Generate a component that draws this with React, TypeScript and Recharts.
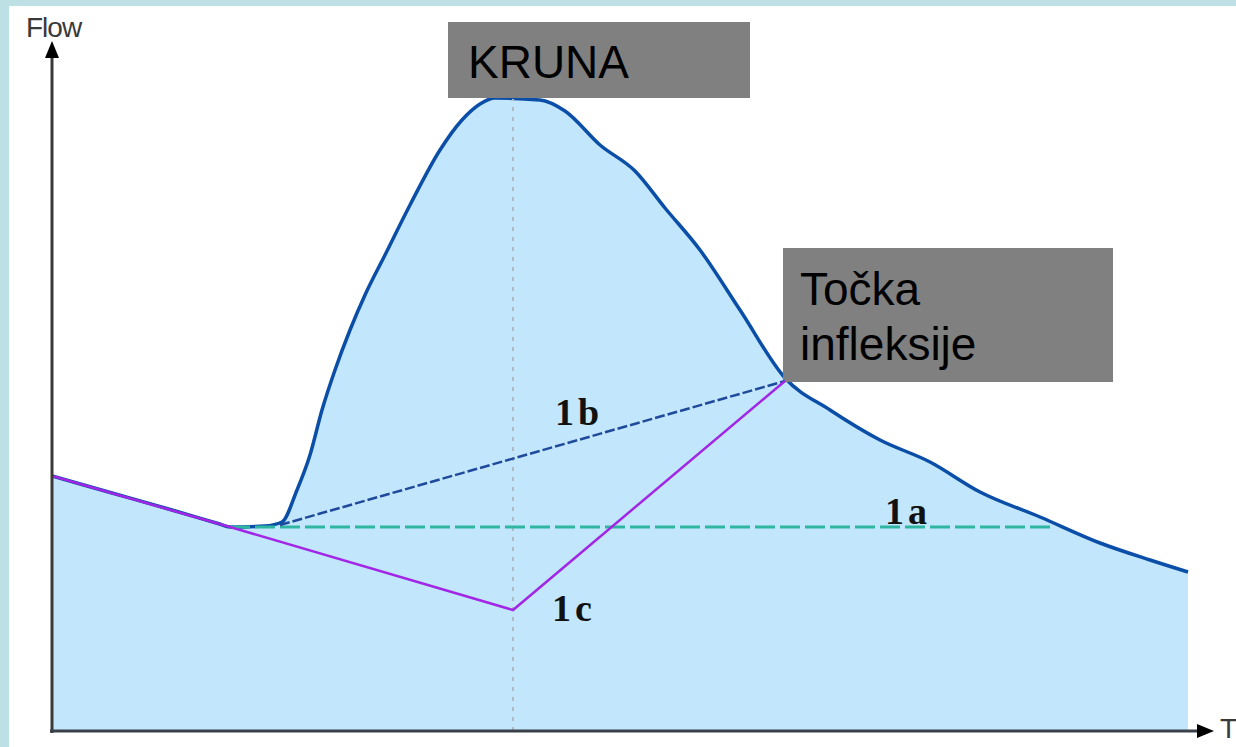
import React from "react";
import {
  ComposedChart,
  Area,
  Line,
  XAxis,
  YAxis,
  ReferenceLine,
  ReferenceArea,
  ReferenceDot,
} from "recharts";

// Hydrograph (time, flow)
const hydroTime = [0, 6, 12, 16.6, 17.8, 21.3, 23, 24.5, 25.8, 27, 28.3, 29.8, 31.3, 33.3, 35.8, 38.8, 41, 42.8, 44.3, 48.8, 51.3, 54.8, 58.3, 61.3, 64.8, 68.8, 73.3, 77.8, 82.8, 87.8, 92.8, 98.8, 104.8, 109.8, 113.6];
const hydroFlow = [25.5, 23.8, 22.1, 20.75, 20.4, 20.5, 20.9, 24.1, 27.6, 32.1, 36.1, 40.1, 43.6, 47.6, 52.6, 58.1, 61.1, 62.7, 63.3, 63.1, 62.0, 58.6, 56.0, 52.3, 48.1, 42.1, 35.3, 32.1, 29.1, 26.9, 23.9, 21.4, 18.8, 17.1, 15.9];

// Separation methods
const line1aTime = [17.8, 99.8];
const line1aFlow = [20.4, 20.4];
const line1bTime = [22.8, 73.3];
const line1bFlow = [20.6, 35.0];
const line1cTime = [0, 17.8, 46.1, 73.3];
const line1cFlow = [25.5, 20.4, 12.1, 35.0];

const peakTime = 46.1;
const peakFlow = 63.2;

const labels = ["KRUNA", "Točka", "infleksije", "1a", "1b", "1c", "Flow", "T"];

const zip = (t: number[], f: number[]) => t.map((x, i) => ({ x, y: f[i] }));
const hydroData = zip(hydroTime, hydroFlow);
const data1a = zip(line1aTime, line1aFlow);
const data1b = zip(line1bTime, line1bFlow);
const data1c = zip(line1cTime, line1cFlow);

const sans = "'Liberation Sans', Arial, sans-serif";
const serif = "'Liberation Serif', 'Times New Roman', serif";

const textShape =
  (text: string, size: number, family: string, weight: string, fill: string, spacing = 0) =>
  (p: any) => (
    <text
      x={p.cx}
      y={p.cy}
      fontSize={size}
      fontFamily={family}
      fontWeight={weight}
      fill={fill}
      letterSpacing={spacing}
    >
      {text}
    </text>
  );

export default function App() {
  return (
    <div
      style={{
        position: "fixed",
        left: 0,
        top: 0,
        width: 1236,
        height: 747,
        background: "#bce0e3",
        overflow: "hidden",
      }}
    >
      <div
        style={{
          position: "absolute",
          left: 9,
          top: 6,
          width: 1227,
          height: 741,
          background: "#ffffff",
        }}
      />
      <div style={{ position: "absolute", left: 0, top: 0 }}>
        <ComposedChart
          width={1236}
          height={747}
          margin={{ top: 11, right: 24, bottom: 16, left: 52 }}
        >
          <XAxis type="number" dataKey="x" domain={[0, 116]} hide allowDataOverflow />
          <YAxis type="number" dataKey="y" domain={[0, 72]} hide allowDataOverflow />
          <Area
            data={hydroData}
            dataKey="y"
            type="monotone"
            fill="#c2e7fc"
            fillOpacity={1}
            stroke="#0b4ea8"
            strokeWidth={3.5}
            isAnimationActive={false}
            dot={false}
            activeDot={false}
          />
          <ReferenceLine
            segment={[{ x: peakTime, y: 0 }, { x: peakTime, y: peakFlow }]}
            stroke="#b0bac4"
            strokeWidth={2}
            strokeDasharray="4 6"
            ifOverflow="visible"
          />
          <Line
            data={data1a}
            dataKey="y"
            type="linear"
            stroke="#2fb6a0"
            strokeWidth={3}
            strokeDasharray="20 5"
            dot={false}
            activeDot={false}
            isAnimationActive={false}
          />
          <Line
            data={data1b}
            dataKey="y"
            type="linear"
            stroke="#1f4a9c"
            strokeWidth={2.5}
            strokeDasharray="10 3"
            dot={false}
            activeDot={false}
            isAnimationActive={false}
          />
          <Line
            data={data1c}
            dataKey="y"
            type="linear"
            stroke="#a226e6"
            strokeWidth={2.5}
            dot={false}
            activeDot={false}
            isAnimationActive={false}
          />
          {/* axes */}
          <ReferenceLine
            segment={[{ x: 0, y: -0.2 }, { x: 0, y: 67.3 }]}
            stroke="#3a3a3a"
            strokeWidth={3}
            ifOverflow="visible"
          />
          <ReferenceLine
            segment={[{ x: -0.2, y: 0 }, { x: 114.5, y: 0 }]}
            stroke="#3a4048"
            strokeWidth={3}
            ifOverflow="visible"
          />
          <ReferenceDot
            x={0}
            y={67.3}
            r={1}
            ifOverflow="visible"
            shape={(p: any) => (
              <polygon
                points={`${p.cx - 7},${p.cy} ${p.cx + 7},${p.cy} ${p.cx},${p.cy - 17}`}
                fill="#000"
              />
            )}
          />
          <ReferenceDot
            x={114.5}
            y={0}
            r={1}
            ifOverflow="visible"
            shape={(p: any) => (
              <polygon
                points={`${p.cx},${p.cy - 7} ${p.cx},${p.cy + 7} ${p.cx + 17},${p.cy}`}
                fill="#000"
              />
            )}
          />
          {/* boxes */}
          <ReferenceArea
            x1={39.6}
            x2={69.8}
            y1={63.3}
            y2={70.9}
            fill="#808080"
            fillOpacity={1}
            stroke="none"
            ifOverflow="visible"
          />
          <ReferenceArea
            x1={73.1}
            x2={106.1}
            y1={34.9}
            y2={48.3}
            fill="#808080"
            fillOpacity={1}
            stroke="none"
            ifOverflow="visible"
          />
          {/* texts */}
          <ReferenceDot x={41.6} y={65.3} r={1} ifOverflow="visible" shape={textShape(labels[0], 46, sans, "normal", "#000")} />
          <ReferenceDot x={74.8} y={42.6} r={1} ifOverflow="visible" shape={textShape(labels[1], 46, sans, "normal", "#000")} />
          <ReferenceDot x={74.8} y={37.1} r={1} ifOverflow="visible" shape={textShape(labels[2], 46, sans, "normal", "#000")} />
          <ReferenceDot x={83.3} y={20.7} r={1} ifOverflow="visible" shape={textShape(labels[3], 38, serif, "bold", "#111", 4)} />
          <ReferenceDot x={50.3} y={30.6} r={1} ifOverflow="visible" shape={textShape(labels[4], 38, serif, "bold", "#111", 4)} />
          <ReferenceDot x={50.0} y={11.0} r={1} ifOverflow="visible" shape={textShape(labels[5], 38, serif, "bold", "#111", 4)} />
          <ReferenceDot x={-2.6} y={69.4} r={1} ifOverflow="visible" shape={textShape(labels[6], 28, sans, "normal", "#3a3a3a", -1)} />
          <ReferenceDot x={116.8} y={-0.7} r={1} ifOverflow="visible" shape={textShape(labels[7], 28, sans, "normal", "#3a3a3a")} />
        </ComposedChart>
      </div>
    </div>
  );
}
